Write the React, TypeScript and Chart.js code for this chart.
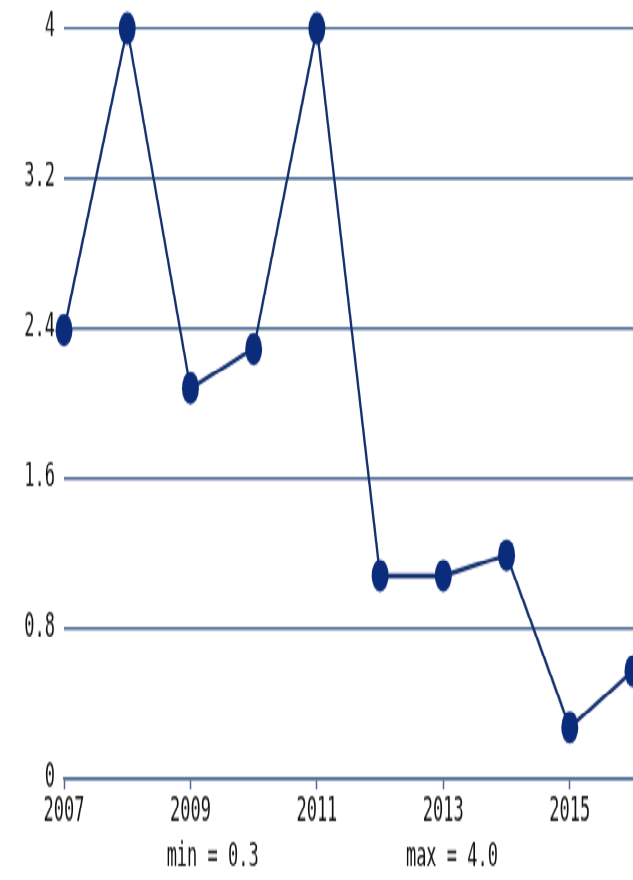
import React, { useEffect, useRef } from 'react';
import { Chart, registerables } from 'chart.js';

Chart.register(...registerables);

// ---- data ----
const years = ['2007', '2008', '2009', '2010', '2011', '2012', '2013', '2014', '2015', '2016'];
const values = [2.39, 4.0, 2.08, 2.29, 4.0, 1.08, 1.08, 1.19, 0.27, 0.57];
const yMin = 0;
const yMax = 4;
const yStep = 0.8;

// ---- look ----
const W = 633;
const S = 1.9; // vertical stretch of the whole picture
const H = Math.round(880 / S);
const FONT = '"DejaVu Sans Mono", "Liberation Mono", monospace';
const GRID = '#4a6894';
const LINE = '#14306e';
const POINT = '#0a2c7a';
const TEXT = '#111111';

export default function App() {
  const ref = useRef<HTMLCanvasElement | null>(null);

  useEffect(() => {
    if (!ref.current) return;
    const minMaxPlugin = {
      id: 'minmax',
      afterDraw(chart: any) {
        const ctx = chart.ctx;
        ctx.save();
        ctx.font = `17px ${FONT}`;
        ctx.fillStyle = TEXT;
        ctx.textAlign = 'center';
        ctx.textBaseline = 'middle';
        const lo = Math.min(...values).toFixed(1);
        const hi = Math.max(...values).toFixed(1);
        ctx.fillText(`min = ${lo}`, chart.width * 0.336, chart.height - 11);
        ctx.fillText(`max = ${hi}`, chart.width * 0.714, chart.height - 11);
        ctx.restore();
      },
    };

    const chart = new Chart(ref.current, {
      type: 'line',
      data: {
        labels: years,
        datasets: [
          {
            data: values,
            borderColor: LINE,
            borderWidth: 2.3,
            pointRadius: 8.5,
            pointHoverRadius: 8.5,
            pointBackgroundColor: POINT,
            pointBorderColor: POINT,
            pointBorderWidth: 0,
            tension: 0,
            clip: false as any,
          },
        ],
      },
      options: {
        animation: false,
        responsive: false,
        devicePixelRatio: 1,
        events: [],
        layout: { autoPadding: false, padding: { top: 15, right: 0, left: 0, bottom: 0 } },
        plugins: { legend: { display: false }, tooltip: { enabled: false } },
        scales: {
          x: {
            type: 'category',
            offset: false,
            grid: {
              drawOnChartArea: false,
              drawTicks: true,
              tickLength: 6,
              tickWidth: 1.5,
              color: GRID,
              tickColor: (c: any) => (c.index % 2 === 0 ? GRID : 'rgba(0,0,0,0)'),
            },
            border: { display: true, color: GRID, width: 1.6 },
            ticks: {
              autoSkip: false,
              maxRotation: 0,
              minRotation: 0,
              padding: 2,
              color: TEXT,
              font: { family: FONT, size: 17 },
              callback: (_v: any, i: number) => (i % 2 === 0 ? years[i] : ''),
            },
            afterFit: (s: any) => {
              s.height = 53.5;
              s.paddingLeft = 0;
              s.paddingRight = 0;
            },
          },
          y: {
            min: yMin,
            max: yMax,
            grid: { color: GRID, lineWidth: 1.6, drawTicks: false },
            border: { display: false },
            ticks: {
              stepSize: yStep,
              padding: 9,
              color: TEXT,
              font: { family: FONT, size: 17 },
              callback: (v: any) => String(Math.round(Number(v) * 10) / 10),
            },
            afterFit: (s: any) => {
              s.width = 64;
              s.paddingTop = 0;
              s.paddingBottom = 0;
            },
          },
        },
      },
      plugins: [minMaxPlugin],
    } as any);
    return () => chart.destroy();
  }, []);

  return (
    <div
      style={{
        position: 'absolute',
        left: 0,
        top: 0,
        width: W,
        height: H,
        transform: `scaleY(${S})`,
        transformOrigin: '0 0',
        background: '#ffffff',
      }}
    >
      <canvas ref={ref} width={W} height={H} style={{ width: W, height: H, display: 'block' }} />
    </div>
  );
}
